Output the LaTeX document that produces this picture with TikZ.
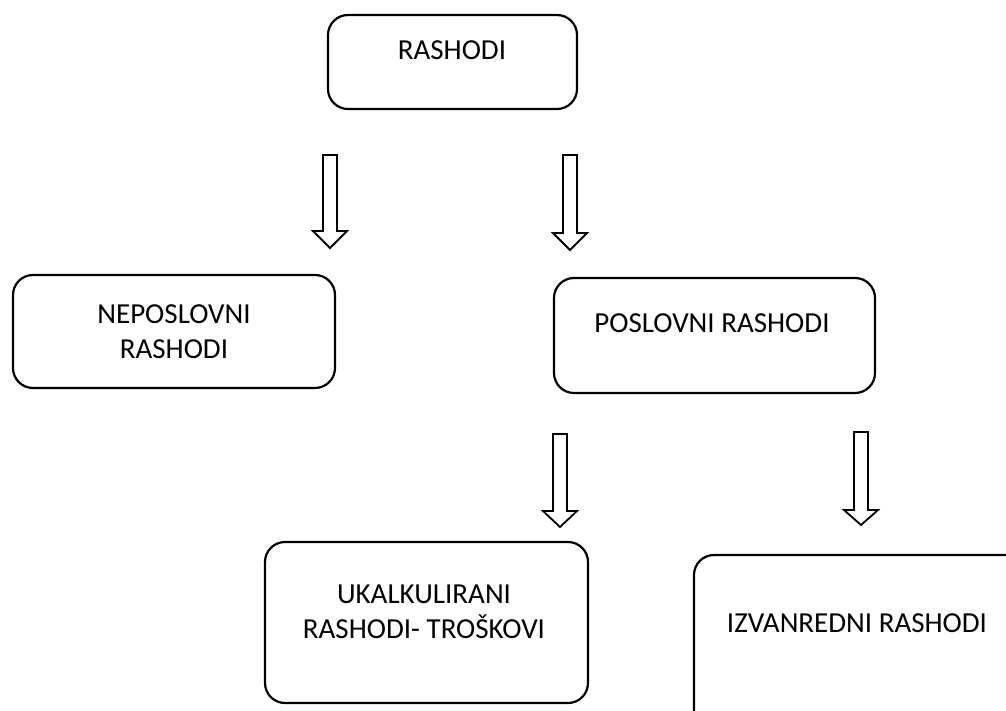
\documentclass[tikz,border=0pt]{standalone}
\usepackage{fontspec}
\setmainfont{Carlito}
\begin{document}
\begin{tikzpicture}[x=1pt,y=-1pt,
  box/.style={draw=black,line width=2.2pt,rounded corners=20pt,inner sep=0pt},
  lbl/.style={font=\fontsize{29}{35}\selectfont,align=center,inner sep=0pt},
  barrow/.style={draw=black,line width=1.8pt,fill=white,line join=miter}]
\clip (0,0) rectangle (1006,711);
\useasboundingbox (0,0) rectangle (1006,711);
% boxes
\node[box,minimum width=249pt,minimum height=94pt] (top) at (452.5,62) {};
\node[box,minimum width=322pt,minimum height=113pt] (nepos) at (174,331.5) {};
\node[box,minimum width=321pt,minimum height=115pt] (pos) at (714.5,335.5) {};
\node[box,minimum width=323pt,minimum height=161pt] (ukal) at (426.5,622.5) {};
\node[box,minimum width=340pt,minimum height=190pt] (izv) at (864,650) {};
% labels
\node[lbl] (ttop) at (452,50) {RASHODI};
\node[lbl] (tnepos) at (174,332) {NEPOSLOVNI\\RASHODI};
\node[lbl] (tpos) at (712,323) {POSLOVNI RASHODI};
\node[lbl] (tukal) at (424,612) {UKALKULIRANI\\RASHODI- TROŠKOVI};
\node[lbl] (tizv) at (857,623) {IZVANREDNI RASHODI};
% block arrows
\newcommand\blockarr[4]{% center x, top, head start, tip
  \draw[barrow] (#1-7,#2) -- (#1+7,#2) -- (#1+7,#3) -- (#1+17,#3) -- (#1,#4)
    -- (#1-17,#3) -- (#1-7,#3) -- cycle;}
\blockarr{330}{155}{231}{248}
\blockarr{570}{155}{233}{250}
\blockarr{560}{434}{511}{527}
\blockarr{861}{432}{510}{525}
\end{tikzpicture}
\end{document}
